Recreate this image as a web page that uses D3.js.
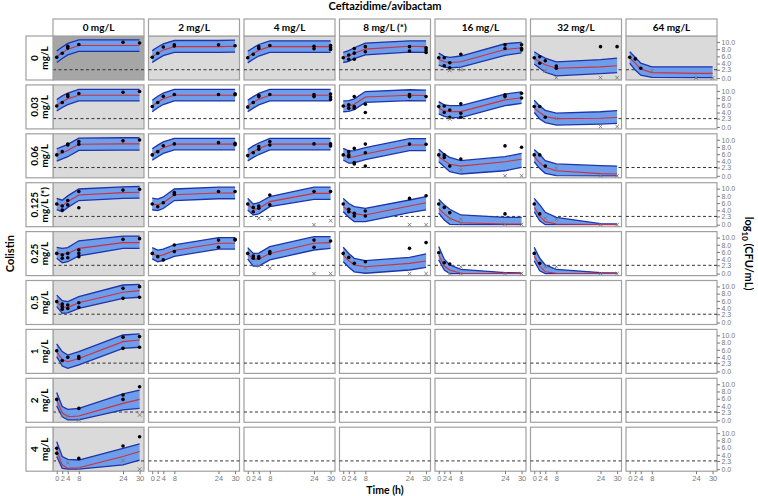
<!DOCTYPE html>
<html><head><meta charset="utf-8">
<script src="https://cdn.jsdelivr.net/npm/d3@7"></script>
<style>body{margin:0;background:#fff}svg{display:block}</style>
</head><body>
<svg id="chart" width="758" height="496"></svg>
<script>
// ---------- data ----------
const cazaviLabels = ["0 mg/L","2 mg/L","4 mg/L","8 mg/L (*)","16 mg/L","32 mg/L","64 mg/L"];
const colistinLabels = [["0","mg/L"],["0.03","mg/L"],["0.06","mg/L"],["0.125","mg/L (*)"],["0.25","mg/L"],["0.5","mg/L"],["1","mg/L"],["2","mg/L"],["4","mg/L"]];
const knots = [0,2,4,8,24,30];
const xTicks = [0,2,4,8,24,30];
const yTicks = [0,2.3,4,6,8,10];
const yTickLabels = ["0.0","2.3","4.0","6.0","8.0","10.0"];
const loq = 2.3;

// panels: [row, col]
const panelCells = [
 [0,0],[0,1],[0,2],[0,3],[0,4],[0,5],[0,6],
 [1,0],[1,1],[1,2],[1,3],[1,4],[1,5],
 [2,0],[2,1],[2,2],[2,3],[2,4],[2,5],
 [3,0],[3,1],[3,2],[3,3],[3,4],[3,5],
 [4,0],[4,1],[4,2],[4,3],[4,4],[4,5],
 [5,0],[6,0],[7,0],[8,0]
];
const medians = [
 [5.9,7.0,8.0,9.0,9.0,9.0],[5.9,6.9,7.8,8.7,8.7,8.8],[5.8,6.8,7.7,8.7,8.7,8.7],[5.75,6.1,6.9,8.0,8.8,8.7],[5.2,4.5,4.3,4.5,7.9,8.4],[5.4,4.5,3.7,2.7,3.1,3.4],[5.6,4.1,2.5,1.5,1.3,1.3],
 [6.0,7.0,7.8,8.8,8.8,8.8],[5.8,6.9,7.8,8.8,8.8,8.8],[5.8,6.8,7.7,8.8,8.8,8.8],[5.7,5.8,6.3,8.3,8.8,8.7],[5.2,4.5,4.25,4.25,7.5,8.1],[5.2,4.0,2.9,2.3,2.4,2.6],
 [5.8,6.4,7.0,8.75,8.85,8.85],[5.9,6.9,7.8,8.8,8.8,8.8],[5.7,6.7,7.5,8.8,8.8,8.8],[6.0,5.1,5.3,6.05,8.55,8.55],[5.3,4.2,3.2,2.7,3.9,4.6],[5.3,3.6,2.35,1.4,0.6,0.5],
 [5.75,5.2,6.4,8.25,8.9,9.0],[5.75,5.5,6.1,8.3,8.8,8.8],[5.7,4.3,4.5,6.4,8.7,8.7],[5.0,3.8,3.0,2.7,5.2,6.1],[4.55,3.0,1.8,0.55,0.2,0.2],[4.8,2.4,0.85,0.2,0.05,0.05],
 [5.6,5.45,5.6,7.0,8.6,8.6],[5.6,4.9,5.2,6.4,8.4,8.4],[5.5,4.0,4.0,5.6,8.4,8.6],[5.15,3.6,2.4,1.9,2.85,3.5],[5.15,2.1,1.0,0.1,0.05,0.05],[4.9,2.1,0.5,0.1,0.05,0.05],
 [5.8,4.2,4.2,5.5,8.4,8.85],[5.5,3.2,2.7,3.6,8.25,8.7],[5.6,2.1,1.0,1.2,4.7,5.8],[5.3,1.2,0.25,0.4,3.5,4.9]
];
const lowers = [
 [4.3,5.4,6.4,7.4,7.4,7.4],[4.3,5.3,6.2,7.1,7.1,7.2],[4.2,5.2,6.1,7.1,7.1,7.1],[4.3,4.6,5.4,6.4,7.2,7.1],[3.6,3.0,2.8,3.0,6.3,7.0],[3.9,2.7,1.6,0.6,1.2,1.5],[4.1,2.2,0.8,0.2,0.1,0.1],
 [4.4,5.4,6.2,7.2,7.2,7.2],[4.2,5.3,6.2,7.2,7.2,7.2],[4.2,5.2,6.1,7.2,7.2,7.2],[4.2,4.3,4.8,6.8,7.3,7.2],[3.6,2.9,2.6,2.6,5.9,6.5],[4.0,2.2,1.2,0.5,0.8,1.0],
 [4.1,4.7,5.3,7.05,7.15,7.15],[4.3,5.3,6.2,7.2,7.2,7.2],[4.1,5.1,5.9,7.2,7.2,7.2],[4.4,3.5,3.6,4.5,7.0,7.0],[3.9,2.5,1.15,0.5,1.4,2.35],[3.9,2.0,0.7,0.05,0,0],
 [4.2,3.6,4.8,6.7,7.3,7.4],[4.15,3.9,4.5,6.7,7.2,7.2],[4.1,2.7,3.0,5.0,7.05,7.05],[3.6,2.05,0.85,0.85,3.35,4.1],[3.2,1.3,0.1,0,0,0],[3.6,1.1,0,0,0,0],
 [4.25,3.0,3.3,4.9,7.0,7.0],[4.1,3.3,3.6,4.8,6.8,6.8],[4.0,2.1,2.1,3.8,6.55,7.0],[3.3,1.75,0.5,0.1,1.0,1.75],[3.8,1.0,0,0,0,0],[3.5,0.8,0,0,0,0],
 [4.4,2.55,2.7,3.9,6.7,7.0],[4.1,1.5,0.85,1.8,6.4,6.7],[4.0,1.0,0.1,0.1,2.9,3.3],[3.5,0.25,0,0,1.2,2.55]
];
const uppers = [
 [7.5,8.6,9.6,10.6,10.6,10.6],[7.6,8.6,9.5,10.4,10.4,10.5],[7.4,8.4,9.3,10.3,10.3,10.3],[7.1,7.6,8.4,9.7,10.3,10.3],[6.9,6.0,5.7,6.1,9.5,9.9],[7.3,6.3,5.5,4.5,5.1,5.5],[7.3,5.75,4.1,3.1,3.1,3.1],
 [7.6,8.6,9.4,10.4,10.4,10.4],[7.4,8.5,9.4,10.4,10.4,10.4],[7.4,8.4,9.3,10.4,10.4,10.4],[7.2,7.3,7.8,9.8,10.3,10.2],[7.0,6.1,5.9,5.9,9.1,9.7],[7.4,5.8,4.6,3.8,4.2,4.5],
 [7.5,8.1,8.7,10.45,10.55,10.55],[7.5,8.5,9.4,10.4,10.4,10.4],[7.3,8.3,9.1,10.4,10.4,10.4],[7.6,6.9,7.0,7.8,10.3,10.3],[7.35,6.05,5.1,4.2,5.3,6.25],[7.3,5.9,4.2,3.3,2.8,2.7],
 [7.3,6.8,8.0,9.9,10.5,10.6],[7.35,7.1,7.7,9.9,10.4,10.4],[7.3,5.75,6.1,7.8,10.4,10.4],[7.3,5.9,5.0,4.55,6.85,7.8],[7.05,5.5,4.3,2.7,2.05,2.05],[7.3,5.5,3.45,2.05,0.3,0.2],
 [7.3,7.0,7.2,9.1,10.4,10.4],[7.2,6.5,6.8,8.0,10.0,10.0],[7.2,5.6,5.7,7.5,10.25,10.25],[7.3,5.6,4.25,3.6,4.5,5.45],[7.5,4.0,2.4,1.2,0.3,0.2],[7.3,4.25,2.4,1.2,0.3,0.2],
 [7.6,6.05,5.8,7.2,10.4,10.6],[7.6,5.5,4.55,5.5,10.1,10.4],[7.7,3.8,3.05,3.3,7.3,8.4],[7.65,3.5,2.75,2.55,5.8,7.0]
];
// observed counts [time, log10 CFU/mL]
const observed = [
 [[0,5.75],[2,6.85],[4,8.3],[4,8.8],[8,9.3],[24,9.9],[30,9.7]],
 [[0,5.75],[2,6.85],[4,8.6],[8,8.9],[8,9.2],[24,9.2],[30,8.95]],
 [[0,5.6],[2,6.6],[4,8.2],[4,8.7],[8,9.0],[24,8.8],[24,8.1],[30,9.0],[30,8.4],[30,7.9]],
 [[0,5.6],[2,6.4],[2,5.2],[4,8.2],[4,6.9],[4,5.2],[8,8.7],[8,7.3],[24,8.7],[24,7.5],[30,8.4],[30,7.8],[30,7.1]],
 [[0,5.6],[2,5.6],[2,3.4],[4,4.25],[4,2.8],[8,6.6],[24,9.2],[24,8.2],[30,9.2],[30,8.2],[30,7.8]],
 [[0,5.6],[2,5.9],[2,4.1],[4,4.8],[8,3.3],[8,2.7],[24,8.7],[30,8.7]],
 [[0,5.75],[2,5.3],[4,2.7]],
 [[0,5.8],[2,6.75],[4,8.4],[4,8.9],[8,9.25],[24,9.6],[30,9.8]],
 [[0,5.65],[2,6.75],[4,8.5],[8,9.0],[24,9.0],[30,8.9],[30,9.2]],
 [[0,5.5],[2,6.75],[4,8.4],[4,8.8],[8,9.0],[24,9.0],[24,8.4],[30,9.1],[30,8.3],[30,7.6]],
 [[0,5.8],[2,6.1],[2,5.2],[4,8.4],[4,5.65],[4,5.2],[8,6.3],[8,4.0],[24,9.0],[24,8.4],[30,8.4]],
 [[0,5.65],[2,5.8],[2,4.0],[4,4.7],[4,2.7],[8,6.4],[8,3.8],[8,2.7],[24,8.9],[24,8.4],[30,9.35],[30,8.0]],
 [[0,5.65],[2,5.65],[4,2.7]],
 [[0,5.8],[2,6.7],[4,8.55],[4,8.8],[8,9.5],[8,8.75],[24,9.7],[30,9.95]],
 [[0,5.8],[2,6.7],[4,8.35],[8,8.85],[24,9.2],[30,9.0],[30,8.6]],
 [[0,5.6],[2,6.4],[4,8.1],[4,7.35],[8,9.5],[8,8.55],[24,8.85],[30,8.85],[30,8.3]],
 [[0,5.8],[2,6.7],[2,5.8],[2,5.3],[4,7.6],[4,3.65],[4,3.3],[8,8.8],[8,6.4],[8,2.7],[24,8.8],[30,8.75]],
 [[0,5.8],[2,5.8],[2,5.1],[4,2.7],[8,4.65],[24,8.3],[30,7.9]],
 [[0,5.8],[2,5.8],[4,2.7]],
 [[0,5.75],[2,5.2],[2,4.1],[4,6.7],[4,5.5],[8,9.2],[8,4.7],[24,9.6],[30,9.8]],
 [[0,5.75],[2,5.0],[4,6.1],[8,8.9],[8,8.4],[24,9.2],[30,9.2]],
 [[0,5.75],[2,4.8],[2,3.6],[4,5.2],[4,4.55],[8,8.25],[8,5.5],[24,9.2],[30,9.2]],
 [[0,5.75],[2,4.3],[2,3.6],[4,3.2],[4,2.4],[8,3.8],[8,2.4],[24,7.3],[30,8.05]],
 [[0,5.75],[2,4.8],[4,3.35],[24,3.0]],
 [[0,5.75],[2,3.0]],
 [[0,5.6],[2,5.15],[2,4.25],[4,5.6],[4,4.4],[8,6.55],[8,5.6],[8,4.7],[24,9.5],[30,9.7]],
 [[0,5.6],[2,4.7],[4,3.8],[8,7.95],[8,6.1],[24,9.3],[24,7.3],[30,9.5],[30,9.35]],
 [[0,5.6],[2,4.9],[2,4.25],[4,4.7],[4,4.25],[8,6.1],[8,5.6],[24,9.3],[24,7.3],[30,9.05]],
 [[0,5.6],[2,4.5],[4,2.85],[8,3.3],[24,7.0],[30,8.6]],
 [[0,5.8],[2,3.0],[4,2.65]],
 [[0,5.6],[2,2.85]],
 [[0,5.8],[2,5.15],[2,4.4],[2,3.7],[4,4.85],[4,3.9],[8,5.5],[8,4.2],[24,9.5],[24,6.7],[30,9.95],[30,7.0]],
 [[0,5.75],[2,3.0],[4,3.9],[8,4.1],[8,3.6],[24,9.5],[24,6.4],[30,9.65],[30,6.7]],
 [[0,5.8],[8,3.3],[24,7.0],[24,5.8],[30,9.3]],
 [[0,5.8],[0,4.4],[8,3.0],[24,6.45],[30,9.0]]
];
// below limit of quantification [time, plotted value]
const belowLoq = [
 [],[],[],[],[[4,2.1],[8,2.3]],[[4,2.0],[8,0.1],[24,0.1],[30,0.1]],[[8,2.0],[24,0],[30,0]],
 [],[],[],[],[[4,2.2]],[[8,2.3],[24,0.1],[30,0.1]],
 [],[],[],[],[[8,1.6],[24,0],[30,0]],[[8,2.1],[24,0],[30,0]],
 [],[],[[4,1.8],[8,1.5],[24,0],[30,1.1]],[[24,0],[30,0]],[[4,1.6],[8,1.5],[8,0.5],[24,0.1],[30,0.1]],[[4,1.8],[8,1.5],[24,0],[30,0]],
 [],[],[[4,2.1],[8,1.5],[24,0],[30,0]],[[8,1.5],[24,0],[30,0]],[[4,0],[8,1.9],[8,0],[24,0],[30,0]],[[4,1.9],[8,1.9],[24,0],[30,0]],
 [],[],[[2,1.3],[4,1.2],[8,0.1],[30,1.5]],[[4,1.8],[8,0.25],[24,2.4],[30,0]]
];

// ---------- layout ----------
const svg = d3.select("#chart");
const nRows = colistinLabels.length, nCols = cazaviLabels.length;
const panelW = 91, panelH = 44;
const colStep = 95.5, rowStep = 48.9;
const left0 = 53, top0 = 36;
const colX = c => left0 + c * colStep;
const rowY = r => top0 + r * rowStep;

const x = d3.scaleLinear().domain([-1.35, 31.6]).range([0, panelW]);
const y = d3.scaleLinear().domain([-0.55, 11.65]).range([panelH, 0]);

const labelFont = "Lato, 'Open Sans', sans-serif";
const tickFont = "'Liberation Sans', Arial, sans-serif";

// panel backgrounds & borders
for (let r = 0; r < nRows; r++) {
  for (let c = 0; c < nCols; c++) {
    const fill = (r === 0 && c === 0) ? "#a6a6a6" : (r === 0 || c === 0) ? "#dadada" : "#ffffff";
    const g = svg.append("g").attr("transform", `translate(${colX(c)},${rowY(r)})`);
    g.append("rect").attr("width", panelW).attr("height", panelH)
      .attr("fill", fill).attr("stroke", "#a0a0a0").attr("stroke-width", 1.2);
    g.append("line").attr("x1", 0).attr("x2", panelW)
      .attr("y1", y(loq)).attr("y2", y(loq))
      .attr("stroke", "#333").attr("stroke-width", 1).attr("stroke-dasharray", "3,2.5");
  }
}

// data panels
const area = d3.area().x(d => x(d[0])).y0(d => y(d[1])).y1(d => y(d[2]));
const line = d3.line().x(d => x(d[0])).y(d => y(d[1]));
panelCells.forEach(([r, c], i) => {
  const g = svg.append("g").attr("transform", `translate(${colX(c)},${rowY(r)})`);
  const band = knots.map((t, k) => [t, lowers[i][k], uppers[i][k]]);
  g.append("path").datum(band).attr("d", area).attr("fill", "#6d9deb");
  g.append("path").datum(knots.map((t, k) => [t, lowers[i][k]])).attr("d", line)
    .attr("fill", "none").attr("stroke", "#1f34a8").attr("stroke-width", 1.3);
  g.append("path").datum(knots.map((t, k) => [t, uppers[i][k]])).attr("d", line)
    .attr("fill", "none").attr("stroke", "#1f34a8").attr("stroke-width", 1.3);
  g.append("path").datum(knots.map((t, k) => [t, medians[i][k]])).attr("d", line)
    .attr("fill", "none").attr("stroke", "#d0303a").attr("stroke-width", 1.1);
  g.selectAll("circle.obs").data(observed[i]).join("circle")
    .attr("cx", d => x(d[0])).attr("cy", d => y(d[1])).attr("r", 1.8).attr("fill", "#000");
  g.selectAll("path.blq").data(belowLoq[i]).join("path")
    .attr("d", d => { const cx = x(d[0]), cy = y(d[1]), s = 1.8;
      return `M${cx-s},${cy-s}L${cx+s},${cy+s}M${cx-s},${cy+s}L${cx+s},${cy-s}`; })
    .attr("stroke", "#777").attr("stroke-width", 0.9).attr("fill", "none");
});

// column strips
cazaviLabels.forEach((lab, c) => {
  const g = svg.append("g").attr("transform", `translate(${colX(c)},19)`);
  g.append("rect").attr("width", panelW).attr("height", 17).attr("fill", "#fff")
    .attr("stroke", "#a0a0a0").attr("stroke-width", 1.2);
  g.append("text").attr("x", panelW / 2).attr("y", 8.5).attr("dy", "0.35em")
    .attr("text-anchor", "middle").attr("font-family", labelFont).attr("font-weight", "bold")
    .attr("font-size", 10).text(lab);
});

// row strips
colistinLabels.forEach((lines, r) => {
  const g = svg.append("g").attr("transform", `translate(26,${rowY(r)})`);
  g.append("rect").attr("width", 27).attr("height", panelH).attr("fill", "#fff")
    .attr("stroke", "#a0a0a0").attr("stroke-width", 1.2);
  const t = g.append("text").attr("transform", `translate(13.5,${panelH / 2}) rotate(-90)`)
    .attr("text-anchor", "middle").attr("font-family", labelFont).attr("font-weight", "bold")
    .attr("font-size", 10);
  t.append("tspan").attr("x", 0).attr("y", -1.5).text(lines[0]);
  t.append("tspan").attr("x", 0).attr("y", 8.5).text(lines[1]);
});

// right y axes
for (let r = 0; r < nRows; r++) {
  const g = svg.append("g").attr("transform", `translate(${colX(nCols - 1) + panelW},${rowY(r)})`);
  const ax = d3.axisRight(y).tickValues(yTicks).tickSize(3).tickPadding(1.5)
    .tickFormat((d, i) => yTickLabels[i]);
  g.call(ax);
  g.select(".domain").remove();
  g.selectAll(".tick line").attr("stroke", "#777");
  g.selectAll(".tick text").attr("fill", "#777").attr("font-family", tickFont).attr("font-size", 7);
}

// bottom x axes
for (let c = 0; c < nCols; c++) {
  const g = svg.append("g").attr("transform", `translate(${colX(c)},${rowY(nRows - 1) + panelH})`);
  const ax = d3.axisBottom(x).tickValues(xTicks).tickSize(3).tickPadding(1);
  g.call(ax);
  g.select(".domain").remove();
  g.selectAll(".tick line").attr("stroke", "#777");
  g.selectAll(".tick text").attr("fill", "#777").attr("font-family", tickFont).attr("font-size", 7.5);
}

// titles
const midX = left0 + ((nCols - 1) * colStep + panelW) / 2;
const midY = top0 + ((nRows - 1) * rowStep + panelH) / 2;
svg.append("text").attr("x", midX).attr("y", 10).attr("text-anchor", "middle")
  .attr("font-family", labelFont).attr("font-weight", "bold").attr("font-size", 11)
  .text("Ceftazidime/avibactam");
svg.append("text").attr("x", midX).attr("y", 494).attr("text-anchor", "middle")
  .attr("font-family", labelFont).attr("font-weight", "bold").attr("font-size", 10.5)
  .text("Time (h)");
svg.append("text").attr("transform", `translate(14,${midY}) rotate(-90)`).attr("text-anchor", "middle")
  .attr("font-family", labelFont).attr("font-weight", "bold").attr("font-size", 11)
  .text("Colistin");
const yl = svg.append("text").attr("transform", `translate(745,${midY}) rotate(90)`).attr("text-anchor", "middle")
  .attr("font-family", labelFont).attr("font-weight", "bold").attr("font-size", 11);
yl.append("tspan").text("log");
yl.append("tspan").attr("font-size", 8).attr("dy", 3).text("10");
yl.append("tspan").attr("dy", -3).text(" (CFU/mL)");
</script>
</body></html>
